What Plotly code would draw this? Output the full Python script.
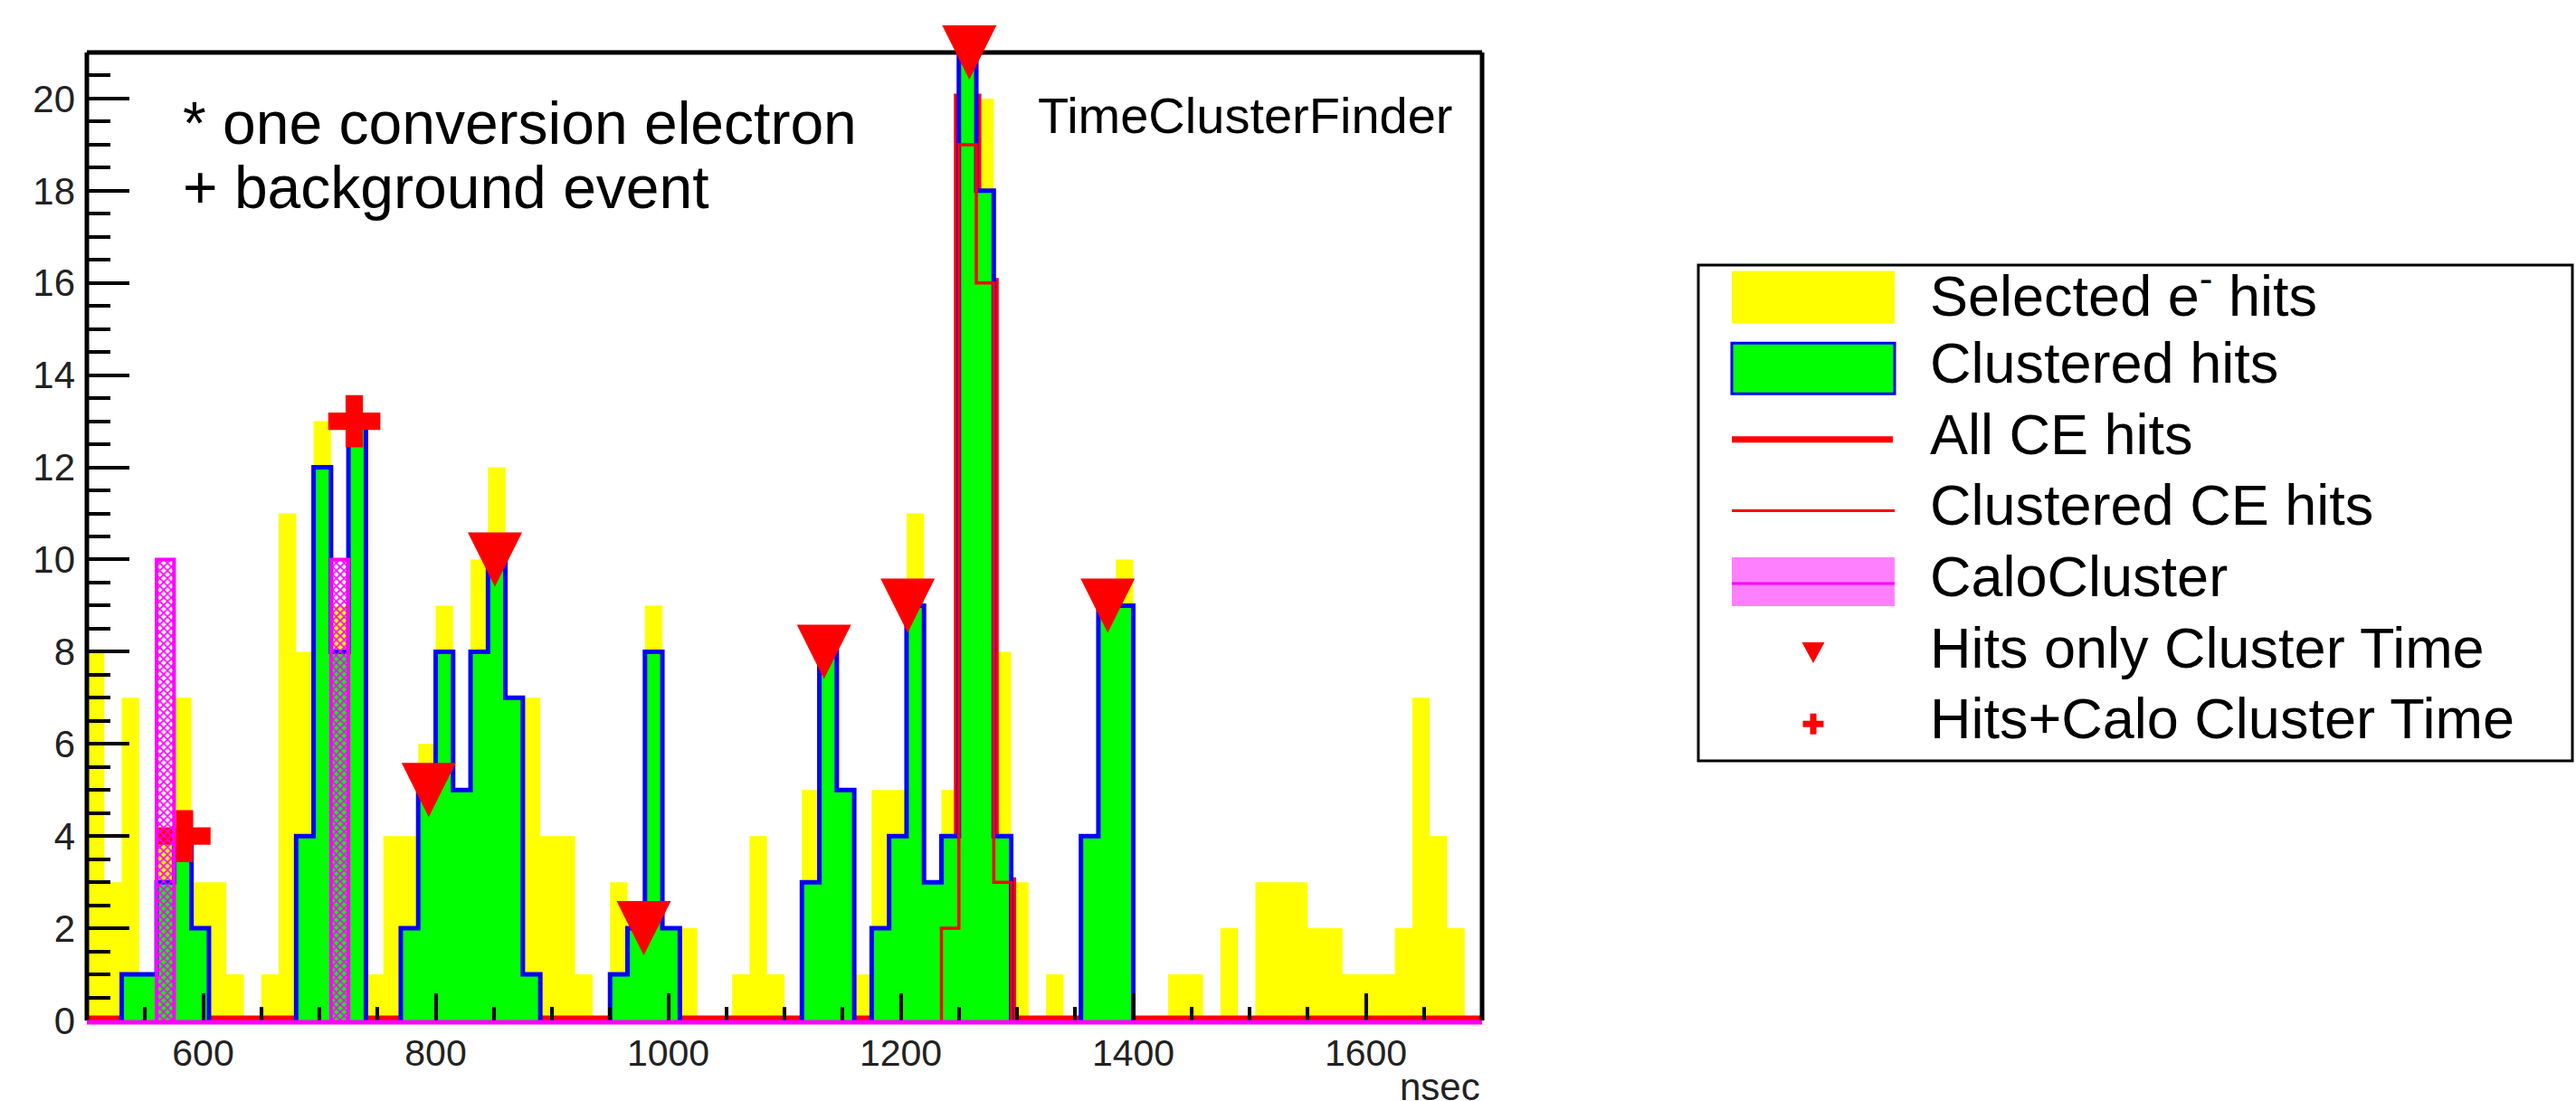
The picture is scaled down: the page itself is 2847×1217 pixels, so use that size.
import plotly.graph_objects as go

# ---------------- data ----------------
t_start = 500        # ns, lower edge of the first bin
bin_width = 15       # ns

# counts per 15 ns bin, 500 .. 1700 ns
selected_hits = [
    8, 3, 7, 1, 4, 7, 3, 3, 1, 0,
    1, 11, 8, 13, 9, 13, 1, 4, 4, 6,
    9, 5, 10, 12, 7, 7, 4, 4, 1, 0,
    3, 2, 9, 2, 2, 0, 0, 1, 4, 1,
    0, 5, 8, 5, 1, 5, 5, 11, 3, 5,
    21, 20, 8, 3, 0, 1, 0, 4, 9, 10,
    0, 0, 1, 1, 0, 2, 0, 3, 3, 3,
    2, 2, 1, 1, 1, 2, 7, 4, 2, 0,
]
clustered_hits = [
    0, 0, 1, 1, 3, 4, 2, 0, 0, 0,
    0, 0, 4, 12, 8, 13, 0, 0, 2, 5,
    8, 5, 8, 10, 7, 1, 0, 0, 0, 0,
    1, 2, 8, 2, 0, 0, 0, 0, 0, 0,
    0, 3, 8, 5, 0, 2, 4, 9, 3, 4,
    21, 18, 4, 0, 0, 0, 0, 4, 9, 9,
    0, 0, 0, 0, 0, 0, 0, 0, 0, 0,
    0, 0, 0, 0, 0, 0, 0, 0, 0, 0,
]
all_ce_hits = [
    0, 0, 0, 0, 0, 0, 0, 0, 0, 0,
    0, 0, 0, 0, 0, 0, 0, 0, 0, 0,
    0, 0, 0, 0, 0, 0, 0, 0, 0, 0,
    0, 0, 0, 0, 0, 0, 0, 0, 0, 0,
    0, 0, 0, 0, 0, 0, 0, 0, 0, 2,
    20, 16, 3, 0, 0, 0, 0, 0, 0, 0,
    0, 0, 0, 0, 0, 0, 0, 0, 0, 0,
    0, 0, 0, 0, 0, 0, 0, 0, 0, 0,
]
clustered_ce_hits = [
    0, 0, 0, 0, 0, 0, 0, 0, 0, 0,
    0, 0, 0, 0, 0, 0, 0, 0, 0, 0,
    0, 0, 0, 0, 0, 0, 0, 0, 0, 0,
    0, 0, 0, 0, 0, 0, 0, 0, 0, 0,
    0, 0, 0, 0, 0, 0, 0, 0, 0, 2,
    19, 16, 3, 0, 0, 0, 0, 0, 0, 0,
    0, 0, 0, 0, 0, 0, 0, 0, 0, 0,
    0, 0, 0, 0, 0, 0, 0, 0, 0, 0,
]
calo_cluster = [
    0, 0, 0, 0, 10, 0, 0, 0, 0, 0,
    0, 0, 0, 0, 10, 0, 0, 0, 0, 0,
    0, 0, 0, 0, 0, 0, 0, 0, 0, 0,
    0, 0, 0, 0, 0, 0, 0, 0, 0, 0,
    0, 0, 0, 0, 0, 0, 0, 0, 0, 0,
    0, 0, 0, 0, 0, 0, 0, 0, 0, 0,
    0, 0, 0, 0, 0, 0, 0, 0, 0, 0,
    0, 0, 0, 0, 0, 0, 0, 0, 0, 0,
]

hits_only_time = [794, 851, 979, 1134, 1206, 1259, 1378]
hits_only_count = [5, 10, 2, 8, 9, 21, 9]
hits_calo_time = [584, 730]
hits_calo_count = [4, 13]

x_range = [500, 1700]
y_range = [0, 21]
x_major, x_minor = 200, 50
y_major, y_minor = 2, 0.5

legend_labels = [
    "Selected e<sup>-</sup> hits",
    "Clustered hits",
    "All CE hits",
    "Clustered CE hits",
    "CaloCluster",
    "Hits only Cluster Time",
    "Hits+Calo Cluster Time",
]
note_lines = ["* one conversion electron", "+ background event"]
module_label = "TimeClusterFinder"
x_unit = "nsec"

# ---------------- geometry / style ----------------
W, H = 2847, 1217
L, R, T, B = 96, 1209, 58, 89
PW, PH = W - L - R, H - T - B
FONT = "Liberation Sans, Arial, Helvetica, sans-serif"
YELLOW, GREEN, BLUE, RED, MAGENTA = "#ffff00", "#00ff00", "#0000ff", "#ff0000", "#ff00ff"


def pxx(px):
    return (px - L) / PW


def pxy(py):
    return (H - B - py) / PH


n_bins = len(selected_hits)
edges = [t_start + bin_width * k for k in range(n_bins + 1)]


def full_step(counts):
    return edges, list(counts) + [counts[-1]]


def run_outline(counts):
    xs, ys = [], []
    k = 0
    while k < len(counts):
        if counts[k] == 0:
            k += 1
            continue
        a = k
        while k < len(counts) and counts[k] != 0:
            k += 1
        xs.append(edges[a]); ys.append(0)
        for j in range(a, k):
            xs += [edges[j], edges[j + 1]]
            ys += [counts[j], counts[j]]
        xs.append(edges[k]); ys.append(0)
        xs.append(None); ys.append(None)
    return xs, ys


fig = go.Figure()

x, y = full_step(selected_hits)
fig.add_trace(go.Scatter(x=x, y=y, mode="lines", line=dict(shape="hv", width=0, color=YELLOW),
                         fill="tozeroy", fillcolor=YELLOW, hoverinfo="skip"))
x, y = full_step(all_ce_hits)
fig.add_trace(go.Scatter(x=x, y=y, mode="lines", line=dict(shape="hv", width=11, color=RED),
                         hoverinfo="skip"))
x, y = full_step(clustered_hits)
fig.add_trace(go.Scatter(x=x, y=y, mode="lines", line=dict(shape="hv", width=0, color=GREEN),
                         fill="tozeroy", fillcolor=GREEN, hoverinfo="skip"))
x, y = run_outline(clustered_hits)
fig.add_trace(go.Scatter(x=x, y=y, mode="lines", line=dict(width=5, color=BLUE),
                         connectgaps=False, hoverinfo="skip"))
x, y = run_outline(clustered_ce_hits)
fig.add_trace(go.Scatter(x=x, y=y, mode="lines", line=dict(width=3.5, color=RED),
                         connectgaps=False, hoverinfo="skip"))
fig.add_trace(go.Scatter(x=hits_only_time, y=hits_only_count, mode="markers",
                         marker=dict(symbol="arrow-down", size=60, standoff=30, color=RED,
                                     line=dict(width=0)),
                         cliponaxis=False, hoverinfo="skip"))
fig.add_trace(go.Scatter(x=hits_calo_time, y=hits_calo_count, mode="markers",
                         marker=dict(symbol="cross", size=48, color=RED, line=dict(width=0)),
                         cliponaxis=False, hoverinfo="skip"))
x, y = run_outline(calo_cluster)
fig.add_trace(go.Scatter(x=x, y=y, mode="lines", fill="toself", fillcolor="rgba(0,0,0,0)",
                         fillpattern=dict(shape="x", fgcolor=MAGENTA, bgcolor="rgba(0,0,0,0)",
                                          size=6, solidity=0.5),
                         line=dict(width=4, color=MAGENTA), connectgaps=False, hoverinfo="skip"))

shapes = [
    # frame: top (below traces so the top marker covers it), left and right
    dict(type="line", xref="paper", yref="paper", x0=0, x1=1, y0=1, y1=1,
         line=dict(color="black", width=5), layer="below"),
    dict(type="line", xref="paper", yref="paper", x0=0, x1=0, y0=0, y1=1,
         line=dict(color="black", width=5), layer="above"),
    dict(type="line", xref="paper", yref="paper", x0=1, x1=1, y0=0, y1=1,
         line=dict(color="black", width=5), layer="above"),
    # bottom baseline (CaloCluster zero line)
    dict(type="line", xref="paper", x0=0, x1=1, yref="paper", ysizemode="pixel", yanchor=0,
         y0=-2, y1=-2, line=dict(color=MAGENTA, width=5), layer="above"),
    # legend box
    dict(type="rect", xref="paper", yref="paper", x0=pxx(1877), x1=pxx(2843),
         y0=pxy(841), y1=pxy(293), line=dict(color="black", width=3), fillcolor="white",
         layer="above"),
]

row_c = [322.6 + 78.6 * k for k in range(len(legend_labels))]
sw_x0, sw_x1 = 1914, 2094
sc = [c + 6 for c in row_c]


def rect_px(x0, y0, x1, y1, **kw):
    return dict(type="rect", xref="paper", yref="paper", x0=pxx(x0), x1=pxx(x1),
                y0=pxy(y1), y1=pxy(y0), layer="above", **kw)


def hline_px(x0, x1, yy, color, width):
    return dict(type="line", xref="paper", yref="paper", x0=pxx(x0), x1=pxx(x1),
                y0=pxy(yy), y1=pxy(yy), line=dict(color=color, width=width), layer="above")


shapes.append(rect_px(sw_x0, sc[0] - 29, sw_x1, sc[0] + 29, fillcolor=YELLOW, line=dict(width=0)))
shapes.append(rect_px(sw_x0, sc[1] - 28, sw_x1, sc[1] + 28, fillcolor=GREEN,
                      line=dict(color=BLUE, width=3)))
shapes.append(hline_px(sw_x0, sw_x1 - 2, sc[2], RED, 7))
shapes.append(hline_px(sw_x0, sw_x1, sc[3], RED, 3))
shapes.append(rect_px(sw_x0, sc[4] - 27, sw_x1, sc[4] + 27, fillcolor="#ff80ff", line=dict(width=0)))
shapes.append(hline_px(sw_x0, sw_x1, sc[4] + 2, MAGENTA, 3))

# legend marker glyphs
cx = (sw_x0 + sw_x1) / 2
ty = sc[5]
tri = "M {:.5f},{:.5f} L {:.5f},{:.5f} L {:.5f},{:.5f} Z".format(
    pxx(cx - 12.5), pxy(ty - 11.5), pxx(cx + 12.5), pxy(ty - 11.5), pxx(cx), pxy(ty + 11.5))
shapes.append(dict(type="path", xref="paper", yref="paper", path=tri, fillcolor=RED,
                   line=dict(width=0), layer="above"))
cy = sc[6]
shapes.append(rect_px(cx - 11.5, cy - 3.5, cx + 11.5, cy + 3.5, fillcolor=RED, line=dict(width=0)))
shapes.append(rect_px(cx - 3.5, cy - 11.5, cx + 3.5, cy + 11.5, fillcolor=RED, line=dict(width=0)))

annotations = []
for lab, c in zip(legend_labels, row_c):
    annotations.append(dict(text=lab, x=pxx(2131), y=pxy(c), xref="paper", yref="paper",
                            xanchor="left", yanchor="middle", showarrow=False,
                            font=dict(family=FONT, size=63, color="black")))
annotations.append(dict(text=note_lines[0], x=pxx(200), y=pxy(135.5), xref="paper", yref="paper",
                        xanchor="left", yanchor="middle", showarrow=False,
                        font=dict(family=FONT, size=66, color="black")))
annotations.append(dict(text=note_lines[1], x=pxx(200), y=pxy(206.5), xref="paper", yref="paper",
                        xanchor="left", yanchor="middle", showarrow=False,
                        font=dict(family=FONT, size=66, color="black")))
annotations.append(dict(text=module_label, x=pxx(1145), y=pxy(127), xref="paper", yref="paper",
                        xanchor="left", yanchor="middle", showarrow=False,
                        font=dict(family=FONT, size=56, color="black")))
annotations.append(dict(text=x_unit, x=pxx(1638), y=pxy(1201), xref="paper", yref="paper",
                        xanchor="right", yanchor="middle", showarrow=False,
                        font=dict(family=FONT, size=42, color="#222222")))

fig.update_layout(
    template="none",
    width=W, height=H, autosize=False,
    margin=dict(l=L, r=R, t=T, b=B, pad=0),
    paper_bgcolor="white", plot_bgcolor="white",
    showlegend=False,
    font=dict(family=FONT, color="black"),
    shapes=shapes,
    annotations=annotations,
    xaxis=dict(range=x_range, showgrid=False, zeroline=False, showline=False, automargin=False,
               ticks="inside", tick0=0, dtick=x_major, ticklen=30, tickwidth=4, tickcolor="black",
               minor=dict(ticks="inside", dtick=x_minor, ticklen=15, tickwidth=4,
                          tickcolor="black", showgrid=False),
               tickfont=dict(family=FONT, size=41, color="#222222"), ticklabelstandoff=8),
    yaxis=dict(range=y_range, showgrid=False, zeroline=False, showline=False, automargin=False,
               ticks="inside", tick0=0, dtick=y_major, ticklen=47, tickwidth=4, tickcolor="black",
               minor=dict(ticks="inside", dtick=y_minor, ticklen=26, tickwidth=4,
                          tickcolor="black", showgrid=False),
               tickfont=dict(family=FONT, size=42, color="#222222"), ticklabelstandoff=12),
)

fig.write_html("out.html")
